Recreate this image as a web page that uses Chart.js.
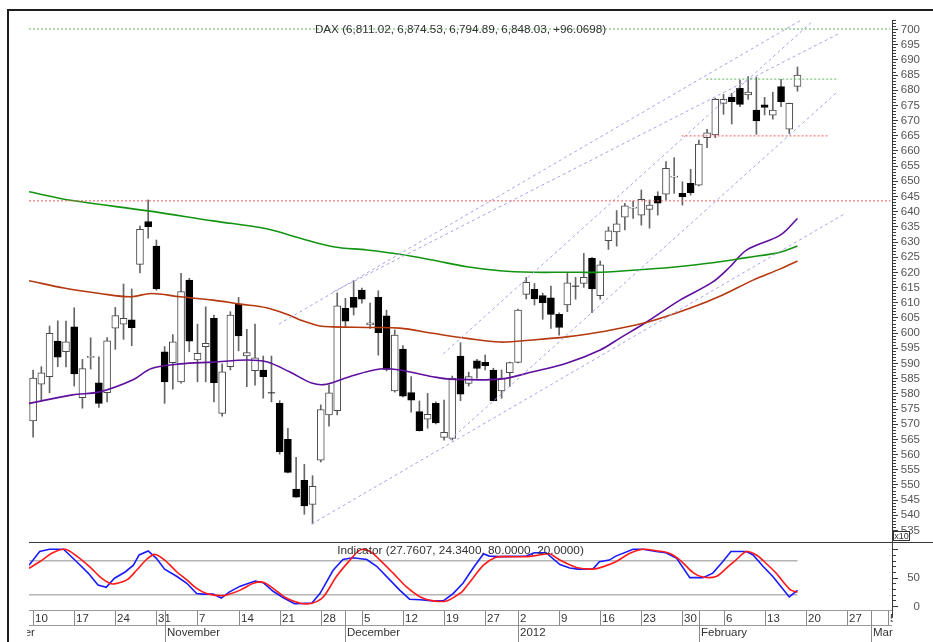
<!DOCTYPE html>
<html lang="en">
<head>
<meta charset="utf-8">
<title>DAX</title>
<script src="https://cdn.jsdelivr.net/npm/chart.js@4.4.1/dist/chart.umd.min.js"></script>
<style>
  html, body { margin: 0; padding: 0; background: #fff; }
  #wrap { position: relative; width: 933px; height: 642px; overflow: hidden; background: #fff; }
  canvas { position: absolute; left: 0; }
  #priceChart { top: 0; }
  #indChart { top: 543px; }
</style>
</head>
<body>
<div id="wrap">
  <canvas id="priceChart" width="933" height="543"></canvas>
  <canvas id="indChart" width="933" height="99"></canvas>
</div>
<script>
// ================= DATA =================
// one candle per trading day: index 0 = 10 Oct 2011 ... 93 = 17 Feb 2012 (DAX / 10)
const open = [570.9, 583.0, 585.5, 597.2, 593.7, 601.9, 578.6, 591.8, 583.5, 580.2,
  601.5, 602.8, 604.2, 622.5, 636.6, 628.5, 593.7, 590.1, 583.8, 617.3,
  591.0, 595.4, 604.7, 573.4, 588.8, 609.4, 592.3, 587.5, 587.7, 580.3,
  576.7, 564.9, 548.5, 551.4, 543.4, 558.0, 572.9, 574.3, 608.0, 611.6,
  614.0, 602.6, 611.6, 605.5, 580.8, 594.6, 580.3, 574.0, 571.5, 576.7,
  565.5, 565.2, 592.3, 583.3, 590.7, 590.2, 587.7, 580.8, 586.8, 590.2,
  612.6, 614.3, 612.2, 611.5, 606.0, 609.1, 615.4, 616.2, 624.5, 612.2,
  630.3, 633.2, 638.0, 641.0, 638.7, 640.6, 645.0, 645.6, 651.2, 645.9,
  649.2, 648.6, 664.2, 665.1, 675.5, 677.5, 680.5, 678.3, 673.3, 675.0,
  671.6, 681.0, 667.0, 681.1];
const high = [587.7, 588.8, 602.2, 603.9, 603.8, 608.2, 591.2, 598.3, 592.0, 598.4,
  608.3, 616.0, 614.4, 635.1, 643.7, 630.5, 595.4, 599.4, 619.5, 617.9,
  602.8, 608.5, 605.8, 589.7, 606.9, 611.6, 601.1, 602.8, 592.3, 592.3,
  577.6, 568.5, 558.9, 556.6, 552.9, 576.2, 582.7, 613.1, 611.3, 617.1,
  614.7, 609.7, 613.8, 607.4, 600.9, 595.7, 585.5, 577.5, 580.0, 577.2,
  577.8, 585.7, 596.7, 587.0, 591.2, 592.6, 588.3, 587.7, 590.3, 607.8,
  618.2, 616.2, 613.0, 615.3, 606.5, 619.5, 618.2, 626.1, 624.8, 623.6,
  634.8, 640.2, 642.6, 643.3, 647.0, 643.7, 646.4, 656.3, 657.6, 649.7,
  653.8, 663.4, 667.0, 677.2, 678.5, 678.8, 683.2, 684.3, 684.1, 677.5,
  679.2, 683.4, 675.6, 687.5];
const low = [565.6, 577.8, 580.2, 588.8, 588.7, 582.4, 575.1, 588.0, 575.4, 577.2,
  594.5, 597.8, 595.7, 619.7, 631.1, 614.0, 576.7, 581.4, 583.4, 593.7,
  583.8, 583.8, 577.2, 572.5, 587.7, 594.0, 582.2, 582.7, 578.4, 577.2,
  560.0, 553.8, 545.7, 540.2, 537.0, 557.4, 569.2, 572.9, 601.9, 605.8,
  609.7, 601.4, 592.6, 587.4, 580.4, 578.8, 573.8, 567.6, 568.5, 569.9,
  564.6, 564.6, 577.6, 582.4, 585.0, 587.7, 577.5, 578.4, 582.2, 590.0,
  611.1, 609.1, 604.4, 601.4, 599.2, 606.9, 611.0, 614.9, 606.6, 611.0,
  627.4, 628.5, 633.8, 637.6, 635.4, 634.4, 638.7, 643.7, 645.9, 642.0,
  645.3, 648.3, 660.9, 664.2, 671.9, 668.7, 674.4, 676.8, 665.3, 671.7,
  670.3, 674.4, 665.6, 679.5];
const close = [585.0, 586.8, 599.8, 591.9, 597.0, 586.4, 588.2, 592.2, 576.7, 597.3,
  605.6, 604.7, 601.6, 634.0, 634.9, 614.4, 583.8, 597.0, 613.5, 597.2,
  593.2, 596.5, 583.5, 587.1, 605.8, 598.9, 593.4, 591.7, 585.5, 580.1,
  560.8, 554.0, 545.8, 542.9, 549.4, 574.7, 580.2, 608.8, 603.8, 608.3,
  611.0, 603.2, 600.0, 587.9, 599.2, 579.1, 577.8, 567.7, 573.1, 570.3,
  567.2, 585.0, 579.7, 585.5, 588.2, 589.1, 577.6, 585.0, 590.1, 607.4,
  616.6, 611.1, 609.9, 606.0, 601.7, 616.4, 615.2, 618.2, 614.4, 622.3,
  633.5, 635.8, 641.8, 641.3, 643.9, 642.0, 642.6, 654.1, 651.6, 644.8,
  646.1, 662.1, 665.8, 676.8, 676.8, 676.1, 675.2, 679.2, 669.7, 674.2,
  673.3, 676.1, 675.5, 684.8];

// moving averages (trading-day index, value)
const maGreenAt = [-0.5, 4.8, 14.0, 21.9, 28.4, 32.5, 36.5, 40.6, 44.6, 48.6, 52.8, 56.8, 60.8, 64.9, 69.0, 74.7, 78.7, 82.7, 86.8, 90.9, 93.0];
const maGreen = [646.4, 643.5, 640.1, 636.8, 634.2, 631.1, 628.3, 627.2, 625.8, 623.9, 621.7, 620.4, 619.9, 619.9, 619.9, 620.9, 621.8, 623.0, 624.7, 626.5, 628.5];
const maBrownAt = [-0.5, 3.9, 8.1, 11.8, 14.4, 17.9, 21.9, 25.2, 28.4, 31.2, 32.5, 34.9, 36.5, 40.6, 44.6, 48.6, 52.8, 56.8, 60.8, 64.9, 69.0, 74.7, 79.9, 83.9, 87.6, 90.9, 93.0];
const maBrown = [617.1, 614.6, 612.9, 611.8, 612.9, 611.8, 610.7, 609.4, 608.2, 605.7, 604.2, 602.2, 601.9, 601.7, 601.5, 599.8, 598.1, 596.9, 597.6, 598.6, 600.2, 603.4, 608.0, 612.4, 617.3, 621.0, 623.6];
const maPurpleAt = [-0.5, 4.8, 8.1, 12.1, 14.4, 17.9, 21.9, 26.0, 28.4, 31.2, 34.0, 35.7, 38.5, 42.2, 44.6, 48.6, 50.7, 56.8, 60.8, 64.9, 69.0, 71.4, 74.7, 78.7, 82.7, 84.8, 86.8, 90.9, 93.0];
const maPurple = [576.7, 579.5, 580.5, 584.4, 588.2, 589.7, 590.3, 591.0, 590.4, 587.1, 583.3, 583.0, 585.5, 588.0, 587.7, 585.5, 584.7, 584.7, 587.1, 589.9, 594.3, 598.2, 603.6, 610.7, 616.7, 621.7, 627.2, 632.1, 637.6];

// trend channel lines: [fromIndex, fromValue, toIndex, toValue]
const trendLines = [
  [29.9, 602.8, 93.3, 702.7],
  [36.5, 613.4, 98.2, 698.7],
  [33.9, 537.0, 98.9, 639.4],
  [50.7, 564.6, 97.7, 678.9],
  [49.9, 593.0, 94.9, 702.7]
];
// horizontal levels: [value, fromIndex, toIndex]
const greenLevels = [[700, -0.5, 104.3], [683.5, 81.9, 98.0]];
const redLevels = [[643.4, -0.5, 104.3], [664.8, 78.9, 96.9]];

// stochastic indicator
const stochKAt = [-0.5, 0.8, 2.0, 3.7, 5.3, 6.7, 7.9, 8.9, 9.9, 11.2, 12.2, 12.9, 14.0, 15.0, 16.0, 17.5, 18.7, 19.9, 20.7, 21.9,
  22.9, 23.9, 25.2, 27.0, 28.0, 29.2, 30.4, 31.8, 33.9, 34.9, 36.5, 37.7, 38.9, 40.6, 41.8, 43.4, 44.6, 45.8, 47.1, 48.7,
  49.9, 51.1, 52.3, 53.5, 54.8, 55.5, 56.8, 60.0, 61.0, 62.4, 64.1, 65.3, 66.3, 68.1, 68.9, 70.1, 70.9, 73.0, 74.2, 75.8,
  77.0, 78.3, 79.9, 81.5, 82.7, 83.9, 84.9, 86.8, 87.6, 88.8, 90.0, 91.0, 92.0, 93.0];
const stochK = [72, 96, 100, 100, 78, 58, 37, 33, 49, 60, 72, 90, 97, 84, 65, 52, 40, 22, 21, 21,
  14, 25, 35, 44, 41, 26, 15, 4, 5, 22, 63, 82, 85, 82, 70, 46, 28, 12, 11, 9,
  9, 22, 40, 66, 92, 88, 87, 88, 94, 94, 73, 67, 65, 65, 78, 81, 88, 100, 100, 96,
  94, 84, 50, 50, 58, 78, 96, 96, 90, 70, 52, 34, 16, 27.76];
const stochDAt = [-0.5, 0.8, 2.4, 3.9, 5.3, 6.9, 8.1, 9.3, 9.9, 11.4, 12.6, 13.8, 14.8, 16.0, 17.5, 18.7, 19.9, 21.1, 22.9, 23.9,
  25.2, 26.8, 28.0, 29.2, 30.8, 32.5, 33.9, 35.3, 36.9, 38.5, 39.8, 41.0, 42.2, 43.8, 45.4, 47.1, 48.7, 50.3, 51.9, 52.3,
  53.5, 54.8, 56.3, 57.6, 60.0, 61.6, 62.8, 64.1, 66.1, 68.1, 69.3, 70.9, 72.6, 74.2, 75.8, 77.4, 78.7, 80.3, 81.5, 83.1,
  84.3, 85.5, 86.8, 88.0, 89.2, 90.4, 92.1, 93.0];
const stochD = [66.5, 78, 94, 100, 88, 69, 52, 40, 39, 46, 63, 82, 91, 81, 60, 46, 31, 22, 18, 21,
  28, 40, 42, 31, 14, 5, 5, 16, 52, 80, 99, 96, 81, 58, 34, 16, 9, 9, 22, 27,
  49, 72, 86, 87, 87, 90, 92, 81, 68, 65, 69, 78, 93, 100, 97.5, 93, 81, 59, 51, 52,
  66, 81, 96, 90, 75, 58, 29, 24.34];
const stochBands = [80, 20];

// axis labels
const priceTicks = [535, 540, 545, 550, 555, 560, 565, 570, 575, 580, 585, 590, 595, 600, 605, 610, 615,
  620, 625, 630, 635, 640, 645, 650, 655, 660, 665, 670, 675, 680, 685, 690, 695, 700];
const stochTicks = [0, 50];
const dayTickAt = [0, 5, 10, 15, 20, 25, 30, 35, 40, 45, 50, 55, 59, 64, 69, 74, 79, 84, 89, 94, 99, 104];
const dayLabels = ["10", "17", "24", "31", "7", "14", "21", "28", "5", "12", "19", "27", "2", "9", "16", "23", "30", "6", "13", "20", "27", "5"];
const monthTickAt = [-5, 16, 38, 59, 81, 102];
const monthLabels = ["October", "November", "December", "2012", "February", "March"];

const priceTitle = "DAX (6,811.02, 6,874.53, 6,794.89, 6,848.03, +96.0698)";
const stochTitle = "Indicator (27.7607, 24.3400, 80.0000, 20.0000)";

// ================= HELPERS =================
const FONT = '"Liberation Sans", Arial, sans-serif';
const X_MIN = -0.5, X_MAX = 104.5;
const LABEL_RIGHT = 920;
const pts = (at, vals) => at.map((x, i) => ({ x, y: vals[i] }));
const isUp = close.map((c, i) => c >= open[i]);

function lineSet(data, color, width, extra) {
  return Object.assign({
    type: "line", data, borderColor: color, borderWidth: width,
    pointRadius: 0, fill: false, tension: 0.35
  }, extra || {});
}

// right axis: line, tick marks and labels through the chart's own y scale
function drawRightAxis(ctx, a, y, fromY, toY, tickVals, majorStep, labels) {
  ctx.fillStyle = "#3a3a3a";
  ctx.fillRect(a.right, fromY, 1, toY - fromY);
  tickVals.forEach(v => {
    const py = Math.round(y.getPixelForValue(v));
    ctx.fillRect(a.right + 1, py, v % majorStep === 0 ? 5 : 3, 1);
  });
  ctx.font = "11.5px " + FONT;
  ctx.fillStyle = "#555";
  ctx.textAlign = "right";
  ctx.textBaseline = "middle";
  labels.forEach(v => ctx.fillText(String(v), LABEL_RIGHT, y.getPixelForValue(v) + 0.5));
}

// ================= PRICE PANE =================
const priceDecor = {
  id: "priceDecor",
  afterDraw(chart) {
    const { ctx, chartArea: a, scales: { y } } = chart;
    ctx.save();

    // frame
    ctx.fillStyle = "#1e1e1e";
    ctx.fillRect(7, 9, 926, 2);
    ctx.fillRect(7, 9, 2, chart.height - 9);

    // pane separator
    ctx.fillStyle = "#3a3a3a";
    ctx.fillRect(a.left, chart.height - 1, chart.width - a.left, 1);

    const ticks = [];
    for (let v = 531; v <= 703; v++) ticks.push(v);
    drawRightAxis(ctx, a, y, 20, a.bottom, ticks, 5, priceTicks);

    // title over the 700 line
    ctx.font = "11.7px " + FONT;
    ctx.fillStyle = "#333";
    ctx.textAlign = "center";
    ctx.fillText(priceTitle, (a.left + a.right) / 2, y.getPixelForValue(700) + 0.5);

    // x10 box
    ctx.fillStyle = "#fff";
    ctx.fillRect(893, 531, 17, 10);
    ctx.strokeStyle = "#333";
    ctx.lineWidth = 1;
    ctx.strokeRect(893.5, 531.5, 16, 9);
    ctx.fillStyle = "#333";
    ctx.font = "9px " + FONT;
    ctx.textAlign = "center";
    ctx.fillText("x10", 901.5, 536.5);
    ctx.restore();
  }
};

const datasets = [];
greenLevels.forEach(([v, a, b]) => datasets.push(lineSet([{ x: a, y: v }, { x: b, y: v }], "#5cb85c", 1, { borderDash: [2, 2], tension: 0, order: 1 })));
redLevels.forEach(([v, a, b]) => datasets.push(lineSet([{ x: a, y: v }, { x: b, y: v }], "#f05a5a", 1, { borderDash: [2, 2], tension: 0, order: 1 })));
trendLines.forEach(([a, va, b, vb]) => datasets.push(lineSet([{ x: a, y: va }, { x: b, y: vb }], "#a3a3e6", 1, { borderDash: [3, 3], tension: 0, order: 2 })));
datasets.push(lineSet(pts(maGreenAt, maGreen), "#129412", 1.6, { order: 3 }));
datasets.push(lineSet(pts(maBrownAt, maBrown), "#b5380e", 1.6, { order: 3 }));
datasets.push(lineSet(pts(maPurpleAt, maPurple), "#5e0f9c", 1.6, { order: 3 }));

// wicks then bodies
datasets.push({
  type: "bar", order: 6, grouped: false, barThickness: 1,
  data: open.map((o, i) => ({ x: i, y: [low[i], high[i]] })),
  backgroundColor: "#666666", borderWidth: 0
});
datasets.push({
  type: "bar", order: 5, grouped: false, barThickness: 7,
  data: open.map((o, i) => ({ x: i, y: [o, close[i]] })),
  backgroundColor: isUp.map(u => u ? "#ffffff" : "#000000"),
  borderColor: isUp.map(u => u ? "#4a4a4a" : "#000000"),
  borderWidth: 1, borderSkipped: false
});

new Chart(document.getElementById("priceChart"), {
  type: "bar",
  data: { datasets },
  options: {
    responsive: false,
    animation: false,
    devicePixelRatio: 1,
    layout: { padding: { left: 29, top: 10, right: 41, bottom: 0 } },
    plugins: { legend: { display: false }, tooltip: { enabled: false } },
    scales: {
      x: { type: "linear", min: X_MIN, max: X_MAX, offset: false, display: false },
      y: { type: "linear", min: 530.72, max: 706.26, display: false }
    }
  },
  plugins: [priceDecor]
});

// ================= INDICATOR PANE + DATE AXIS =================
const indDecor = {
  id: "indDecor",
  afterDraw(chart) {
    const { ctx, chartArea: a, scales: { x, y } } = chart;
    ctx.save();

    ctx.fillStyle = "#1e1e1e";
    ctx.fillRect(7, 0, 2, chart.height);

    drawRightAxis(ctx, a, y, 0, a.bottom + 7, [0, 10, 20, 30, 40, 50, 60, 70, 80, 90, 100], 50, stochTicks);

    // indicator caption
    ctx.font = "11.8px " + FONT;
    ctx.fillStyle = "#333";
    ctx.textAlign = "center";
    ctx.textBaseline = "middle";
    ctx.fillText(stochTitle, (a.left + a.right) / 2, a.top + 8);

    // date rows
    const rowTop = a.bottom, rowMid = a.bottom + 15;
    ctx.fillStyle = "#9a9a9a";
    ctx.fillRect(a.left, rowTop, a.right - a.left, 1);
    ctx.fillRect(a.left, rowMid, a.right - a.left, 1);

    ctx.beginPath();
    ctx.rect(27, rowTop, 866, chart.height - rowTop);
    ctx.clip();
    ctx.font = "11.5px " + FONT;
    ctx.textAlign = "left";

    dayTickAt.forEach((t, k) => {
      const px = Math.round(x.getPixelForValue(t));
      ctx.fillStyle = "#8a8a8a";
      ctx.fillRect(px, rowTop + 1, 1, 14);
      ctx.fillStyle = "#333";
      ctx.fillText(dayLabels[k], px + 2, rowTop + 9);
    });
    monthTickAt.forEach((t, k) => {
      const px = Math.round(x.getPixelForValue(t));
      ctx.fillStyle = "#8a8a8a";
      ctx.fillRect(px, rowTop + 1, 1, chart.height - rowTop);
      ctx.fillStyle = "#333";
      ctx.fillText(monthLabels[k], px + 2, rowMid + 8);
    });
    ctx.restore();
  }
};

new Chart(document.getElementById("indChart"), {
  type: "line",
  data: {
    datasets: [
      ...stochBands.map(v => lineSet([{ x: -0.5, y: v }, { x: 93, y: v }], "#b4b4b4", 1.5, { tension: 0, order: 4 })),
      lineSet(pts(stochKAt, stochK), "#1a1aff", 1.6, { tension: 0, order: 2 }),
      lineSet(pts(stochDAt, stochD), "#ff1a1a", 1.6, { tension: 0.3, order: 1 })
    ]
  },
  options: {
    responsive: false,
    animation: false,
    devicePixelRatio: 1,
    layout: { padding: { left: 29, top: 0, right: 41, bottom: 32 } },
    plugins: { legend: { display: false }, tooltip: { enabled: false } },
    scales: {
      x: { type: "linear", min: X_MIN, max: X_MAX, offset: false, display: false },
      y: { type: "linear", min: -7.05, max: 111.1, display: false }
    }
  },
  plugins: [indDecor]
});
</script>
</body>
</html>
